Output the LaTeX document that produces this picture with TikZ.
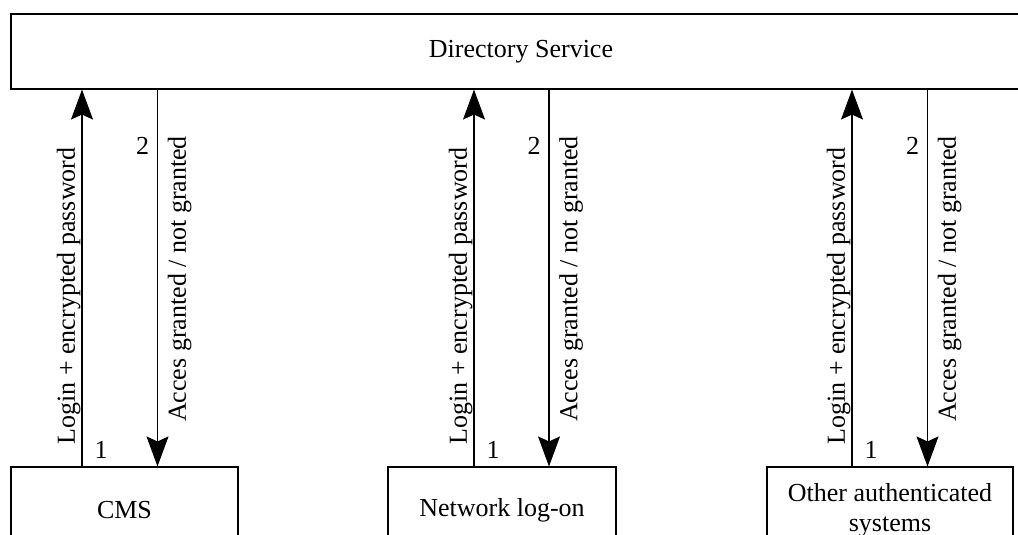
\documentclass[tikz,border=0pt]{standalone}
\usepackage{fontspec}
\setmainfont{Liberation Serif}
\usetikzlibrary{arrows.meta}
\begin{document}
\begin{tikzpicture}[x=0.5pt,y=-0.5pt,
  box/.style={draw, line width=0.55pt, inner sep=0pt, font=\fontsize{13}{15}\selectfont},
  lbl/.style={font=\fontsize{13}{15}\selectfont, inner sep=0pt},
  arr/.style={line width=0.55pt, -{Stealth[length=15pt,width=11pt,inset=2.5pt]}}]
\useasboundingbox (0,0) rectangle (1018,535);
\clip (0,0) rectangle (1018,535);
\node[box, minimum width=510pt, minimum height=37.5pt] (ds) at (521,51.5) {Directory Service};
\node[box, minimum width=113.5pt, minimum height=43pt] (cms) at (124.5,510) {CMS};
\node[box, minimum width=114pt, minimum height=43pt] (net) at (502,510) {Network log-on};
\node[box, minimum width=123pt, minimum height=43pt, align=center] (oth) at (890,510) {Other authenticated\\systems};
\foreach \u/\d/\b in {82/157.5/cms, 474/549/net, 852/927.5/oth} {
  \coordinate (u\b) at (\u,0);
  \coordinate (d\b) at (\d,0);
  \draw[arr] (u\b |- \b.north) -- (u\b |- ds.south);
  \draw[arr] (d\b |- ds.south) -- (d\b |- \b.north);
  \node[lbl, rotate=90, anchor=south] (l\b) at (\u-1,296) {Login + encrypted password};
  \node[lbl, rotate=90, anchor=north] (a\b) at (\d+10,279) {Acces granted / not granted};
  \node[lbl, anchor=base] (t\b) at (\d-15,155) {2};
  \node[lbl, anchor=base] (o\b) at (\u+19,458) {1};
}
\end{tikzpicture}
\end{document}
